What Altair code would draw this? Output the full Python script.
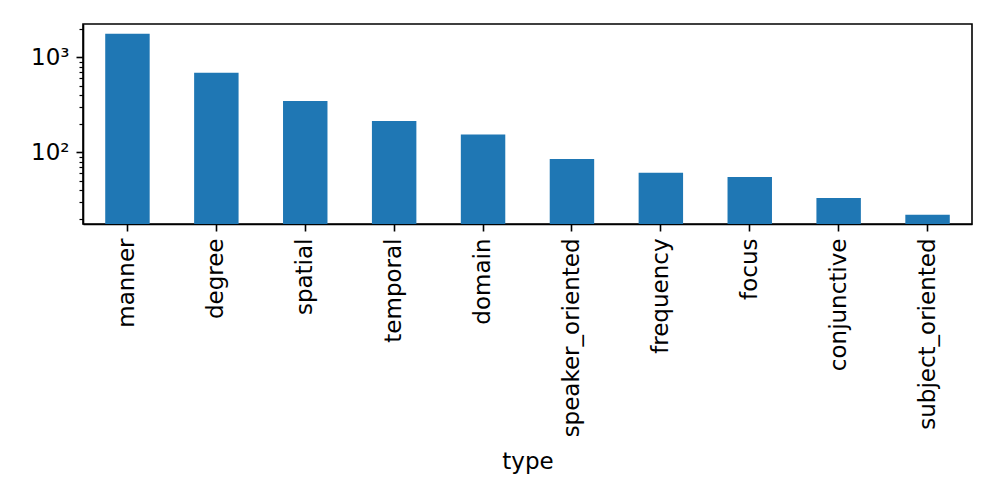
import altair as alt
import pandas as pd

types = ["manner", "degree", "spatial", "temporal", "domain", "speaker_oriented",
         "frequency", "focus", "conjunctive", "subject_oriented"]
counts = [1775, 690, 347, 214, 154, 85, 61, 55, 33, 22]

y_min, y_max = 17.6, 2247
major_ticks = [100, 1000]
minor_ticks = [20, 30, 40, 50, 60, 70, 80, 90, 200, 300, 400, 500, 600, 700, 800, 900, 2000]

df = pd.DataFrame({"type": types, "count": counts})

FONT = "DejaVu Sans"
yscale = alt.Scale(type="log", domain=[y_min, y_max], nice=False)

bars = alt.Chart(df).mark_bar(color="#1f77b4", clip=True).encode(
    x=alt.X("type:N", sort=types,
            scale=alt.Scale(paddingInner=0.5, paddingOuter=0.25),
            axis=alt.Axis(title="type", labelAngle=-90, labelFontSize=23, labelFont=FONT,
                          labelColor="black", labelLimit=400, tickColor="black",
                          domainColor="black", tickSize=7, tickWidth=1.6, domainWidth=1.6,
                          labelPadding=7, titleFont=FONT, titleFontSize=23,
                          titleFontWeight="normal", titleColor="black", titlePadding=26)),
    y=alt.Y("count:Q", scale=yscale,
            axis=alt.Axis(title=None, orient="left", values=major_ticks,
                          labelExpr="datum.value == 1000 ? '10³' : '10²'",
                          labelFontSize=23, labelFont=FONT, labelColor="black",
                          tickColor="black", tickSize=7, tickWidth=1.6,
                          domainColor="black", domainWidth=1.6, labelPadding=7, grid=False)),
    y2=alt.datum(y_min),
)

minor = alt.Chart(df).mark_bar(opacity=0).encode(
    y=alt.Y("count:Q", scale=yscale,
            axis=alt.Axis(title=None, orient="left", values=minor_ticks, labels=False,
                          tickColor="black", tickSize=4, tickWidth=1.2,
                          domain=False, grid=False)),
)

chart = alt.layer(bars, minor).resolve_axis(y="independent").properties(
    width=889, height=200,
    autosize=alt.AutoSizeParams(type="none"),
    padding={"left": 75, "top": 16, "right": 17, "bottom": 250},
).configure(background="white", view=alt.ViewConfig(stroke="black", strokeWidth=1.6))

chart.save("out.html", embed_options={"renderer": "svg", "actions": False})
